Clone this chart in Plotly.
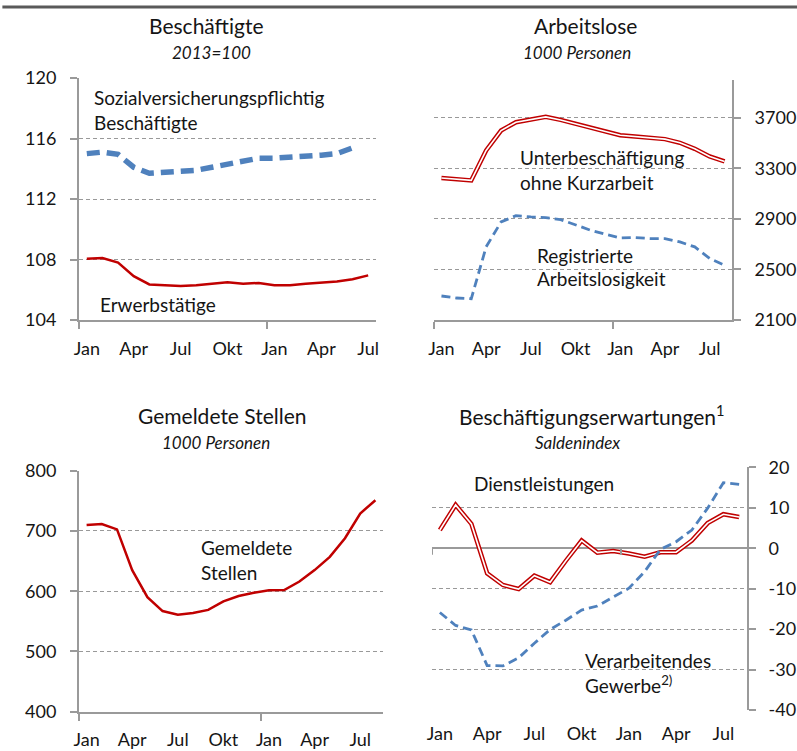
import plotly.graph_objects as go

W, H = 797, 751

tick_pos = [0, 3, 6, 9, 12, 15, 18]
tick_text = ["Jan", "Apr", "Jul", "Okt", "Jan", "Apr", "Jul"]

# Beschäftigte, 2013=100 (Jan .. Jul des Folgejahres)
erwerbstaetige = [108.05, 108.1, 107.8, 106.9, 106.35, 106.3, 106.25, 106.3, 106.4, 106.5,
                  106.4, 106.45, 106.3, 106.3, 106.4, 106.5, 106.55, 106.7, 106.95]
sv_beschaeftigte = [115.0, 115.1, 114.95, 114.1, 113.7, 113.75, 113.8, 113.9, 114.1, 114.3,
                    114.5, 114.7, 114.7, 114.75, 114.85, 114.9, 115.0, 115.38]

# Arbeitslose, 1000 Personen (Jan .. Aug)
unterbeschaeftigung = [3224, 3213, 3205, 3442, 3600, 3666, 3687, 3708, 3684, 3653,
                       3618, 3592, 3563, 3553, 3540, 3532, 3503, 3455, 3395, 3355]
registrierte_al = [2290, 2274, 2268, 2679, 2876, 2926, 2916, 2910, 2895, 2850,
                   2811, 2779, 2750, 2753, 2745, 2745, 2718, 2679, 2587, 2534]

# Gemeldete Stellen, 1000 Personen
gemeldete_stellen = [710, 711.5, 702.6, 635, 590, 567, 561, 564, 569, 583,
                     592, 597.5, 601.4, 602, 616, 635, 657, 688, 729, 751]

# Beschäftigungserwartungen, Saldenindex
dienstleistungen = [4.5, 10.7, 6.0, -6.2, -9.1, -10.1, -6.8, -8.4, -3.1, 1.9,
                    -1.1, -0.7, -1.3, -2.1, -1.0, -1.0, 1.9, 6.2, 8.4, 7.7]
verarb_gewerbe = [-15.9, -19.1, -20.2, -29.0, -29.1, -27.1, -23.5, -20.1, -17.8, -15.3,
                  -14.3, -12.0, -9.9, -5.8, -0.3, 1.6, 4.5, 9.9, 16.2, 15.8]
saldo_ticks = [-40, -30, -20, -10, 0, 10, 20]

RED = "#c00000"
BLUE = "#4f81bd"
AXIS = "#9a9a9a"
GRID = "#999999"
TXT = "#151515"
FONT = "Lato, 'Open Sans', sans-serif"


def px_x(a, b):
    return [a / W, b / W]


def px_y(top, bottom):
    return [1 - bottom / H, 1 - top / H]


def xax(dom, n, standoff=11):
    return dict(
        domain=px_x(*dom), range=[-0.5, n - 0.5], tickmode="array",
        tickvals=tick_pos, ticktext=tick_text, ticks="", showgrid=False,
        showline=True, linecolor=AXIS, linewidth=2, zeroline=False, automargin=False,
        ticklabelstandoff=standoff, tickfont=dict(size=18, color=TXT, family=FONT),
        minor=dict(tickmode="array", tickvals=[-0.5, 11.5], ticks="outside",
                   ticklen=7, tickwidth=2, tickcolor=AXIS, showgrid=False),
    )


def yax(dom, rng, vals, side="left"):
    return dict(
        domain=px_y(*dom), range=rng, tickmode="array", tickvals=vals,
        ticktext=[str(v) for v in vals],
        side=side, ticks="outside", ticklen=7, tickwidth=2, tickcolor=AXIS,
        showline=True, linecolor=AXIS, linewidth=2, zeroline=False, automargin=False,
        showgrid=True, gridcolor=GRID, gridwidth=1, griddash="4px,3px",
        ticklabelstandoff=10, tickfont=dict(size=18, color=TXT, family=FONT),
    )


fig = go.Figure()

x19 = list(range(len(erwerbstaetige)))
x20 = list(range(len(unterbeschaeftigung)))

# Panel 1
fig.add_trace(go.Scatter(x=x19, y=erwerbstaetige, mode="lines",
                         line=dict(color=RED, width=2.5), xaxis="x", yaxis="y"))
fig.add_trace(go.Scatter(x=list(range(len(sv_beschaeftigte))), y=sv_beschaeftigte, mode="lines",
                         line=dict(color=BLUE, width=5.5, dash="13px,7px"), xaxis="x", yaxis="y"))

# Panel 2
fig.add_trace(go.Scatter(x=x20, y=unterbeschaeftigung, mode="lines",
                         line=dict(color=RED, width=4.5), xaxis="x2", yaxis="y2"))
fig.add_trace(go.Scatter(x=x20, y=unterbeschaeftigung, mode="lines",
                         line=dict(color="white", width=1.6), xaxis="x2", yaxis="y2"))
fig.add_trace(go.Scatter(x=x20, y=registrierte_al, mode="lines",
                         line=dict(color=BLUE, width=2.8, dash="9px,5px"), xaxis="x2", yaxis="y2"))

# Panel 3
fig.add_trace(go.Scatter(x=x20, y=gemeldete_stellen, mode="lines",
                         line=dict(color=RED, width=2.5), xaxis="x3", yaxis="y3"))

# Panel 4
fig.add_trace(go.Scatter(x=x20, y=dienstleistungen, mode="lines",
                         line=dict(color=RED, width=4.5), xaxis="x4", yaxis="y4"))
fig.add_trace(go.Scatter(x=x20, y=dienstleistungen, mode="lines",
                         line=dict(color="white", width=1.6), xaxis="x4", yaxis="y4"))
fig.add_trace(go.Scatter(x=x20, y=verarb_gewerbe, mode="lines",
                         line=dict(color=BLUE, width=2.8, dash="9px,5px"), xaxis="x4", yaxis="y4"))

x4 = xax((432, 747), 20)
x4.update(showline=False, minor=None)
y4 = yax((467.3, 710), [-40, 20], saldo_ticks, side="right")
y4.update(zeroline=True, zerolinecolor=AXIS, zerolinewidth=2, ticklabelstandoff=9)

fig.update_layout(
    width=W, height=H, margin=dict(l=0, r=0, t=0, b=0, autoexpand=False),
    paper_bgcolor="white", plot_bgcolor="white", showlegend=False,
    font=dict(family=FONT, color=TXT),
    xaxis=xax((79, 376), 19),
    yaxis=yax((78, 320), [104, 120], [104, 108, 112, 116, 120]),
    xaxis2=xax((434, 732), 20),
    yaxis2=yax((80, 320), [2100, 4000], [2100, 2500, 2900, 3300, 3700], side="right"),
    xaxis3=xax((79, 383), 20),
    yaxis3=yax((470.7, 711.7), [400, 800], [400, 500, 600, 700, 800]),
    xaxis4=x4,
    yaxis4=y4,
)
for k in ["xaxis2", "xaxis3", "xaxis4"]:
    fig.layout[k].anchor = "y" + k[-1]
for k in ["yaxis2", "yaxis3", "yaxis4"]:
    fig.layout[k].anchor = "x" + k[-1]

# tick marks on the zero line of panel 4
for xv in [-0.5, 11.5]:
    fig.add_shape(type="line", xref="x4", yref="y4", x0=xv, x1=xv, y0=0, y1=-1.6,
                  line=dict(color=AXIS, width=2))

# top rule
fig.add_shape(type="line", xref="paper", yref="paper", x0=0.003, x1=1,
              y0=1 - 7 / H, y1=1 - 7 / H, line=dict(color="#5a5a5a", width=3))


def note(text, x, y, size=19, italic=False, anchor="left"):
    fig.add_annotation(
        text=f"<i>{text}</i>" if italic else text, x=x / W, y=1 - y / H,
        xref="paper", yref="paper", xanchor=anchor, yanchor="middle",
        showarrow=False, font=dict(size=size, color=TXT, family=FONT),
    )


# titles
note("Beschäftigte", 206, 26, size=21, anchor="center")
note("2013=100", 211, 52, size=17, italic=True, anchor="center")
note("Arbeitslose", 585, 26, size=21, anchor="center")
note("1000 Personen", 577, 52, size=17, italic=True, anchor="center")
note("Gemeldete Stellen", 222, 415, size=21, anchor="center")
note("1000 Personen", 216, 442, size=17, italic=True, anchor="center")
note("Beschäftigungserwartungen<sup>1</sup>", 592, 415, size=21, anchor="center")
note("Saldenindex", 577, 442, size=17, italic=True, anchor="center")

# series labels
note("Sozialversicherungspflichtig", 92, 97)
note("Beschäftigte", 92, 122)
note("Erwerbstätige", 98, 305)
note("Unterbeschäftigung", 518, 157)
note("ohne Kurzarbeit", 518, 182)
note("Registrierte", 535, 255)
note("Arbeitslosigkeit", 535, 278)
note("Gemeldete", 199, 547)
note("Stellen", 199, 572)
note("Dienstleistungen", 472, 483)
note("Verarbeitendes", 583, 660)
note("Gewerbe<sup>2)</sup>", 583, 684)

fig.write_html(
    "out.html",
    config={"displayModeBar": False},
    post_script="document.body.style.margin='0px';document.body.style.overflow='hidden';",
)
